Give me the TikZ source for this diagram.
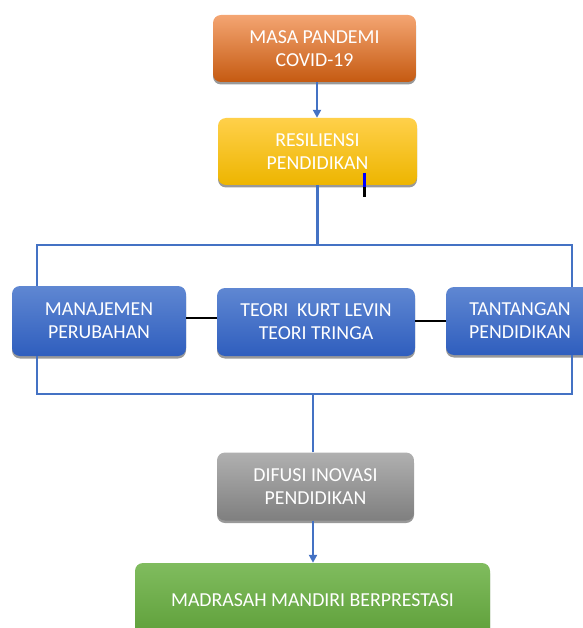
\documentclass[tikz,border=0pt]{standalone}
\usepackage{fontspec}
\setmainfont{Carlito}
\usetikzlibrary{positioning, arrows.meta, shadows}

\definecolor{linkblue}{HTML}{4472C4}
\definecolor{orangetop}{HTML}{F4A572}
\definecolor{orangebot}{HTML}{C55A11}
\definecolor{yellowtop}{HTML}{FFD04A}
\definecolor{yellowbot}{HTML}{EDB500}
\definecolor{bluetop}{HTML}{5F87D2}
\definecolor{bluebot}{HTML}{2F5EBE}
\definecolor{graytop}{HTML}{B0B0B0}
\definecolor{graybot}{HTML}{7F7F7F}
\definecolor{greentop}{HTML}{80BC5E}
\definecolor{greenbot}{HTML}{5E9F39}

\tikzset{
  box/.style={rounded corners=8pt, minimum width=199pt, minimum height=68pt,
    inner sep=0pt, align=center, text=white,
    font=\fontsize{19.8}{23}\selectfont,
    drop shadow={shadow xshift=0pt, shadow yshift=-2.5pt, fill=black, opacity=0.4}},
  orangebox/.style={box, top color=orangetop, bottom color=orangebot},
  yellowbox/.style={box, top color=yellowtop, bottom color=yellowbot},
  bluebox/.style={box, top color=bluetop, bottom color=bluebot},
  graybox/.style={box, top color=graytop, bottom color=graybot},
  greenbox/.style={box, top color=greentop, bottom color=greenbot},
  link/.style={draw=linkblue, line width=2.4pt},
  arrow/.style={link, -{Triangle[width=8pt,length=8pt]}},
  tie/.style={draw=black, line width=1.2pt}
}

\begin{document}
\begin{tikzpicture}[x=1pt, y=-1pt]
  \useasboundingbox (0,0) rectangle (582,628);

  % boxes
  \node[orangebox, minimum width=203pt, minimum height=67pt] (covid) at (314.5,48.5) {MASA PANDEMI\\COVID-19};
  \node[yellowbox, minimum height=67pt] (resil) at (317.5,151.5) {RESILIENSI\\PENDIDIKAN};
  \node[bluebox, minimum width=174pt, minimum height=70pt] (manaj) at (99,321) {MANAJEMEN\\PERUBAHAN};
  \node[bluebox, minimum width=198pt] (teori) at (316,322) {TEORI\ \ KURT LEVIN\\TEORI TRINGA};
  \node[bluebox, minimum width=148pt] (tantang) at (520,321) {TANTANGAN\\PENDIDIKAN};
  \node[graybox, minimum width=197pt] (difusi) at (315.5,486.5) {DIFUSI INOVASI\\PENDIDIKAN};
  \node[greenbox, minimum width=355pt, minimum height=74pt] (madrasah) at (312.5,600) {MADRASAH MANDIRI BERPRESTASI};

  % bracket corners
  \coordinate (tl) at (37,245);
  \coordinate (tr) at (572,245);
  \coordinate (bl) at (37,394);
  \coordinate (br) at (572,394);

  % connectors
  \draw[arrow] (covid.south -| 317,0) -- (resil.north -| 317,0);
  \draw[link] (resil.south) -- (resil.south |- tl);
  \draw[link] (tl |- manaj.north) -- (tl) -- (tr) -- (tr |- tantang.north);
  \draw[link] (bl |- manaj.south) -- (bl) -- (br) -- (br |- tantang.south);
  \draw[link] (difusi.north -| 313,0) -- (313,394);
  \draw[arrow] (difusi.south -| 313,0) -- (madrasah.north -| 313,0);
  \draw[tie] (manaj.east |- 0,318) -- (teori.west |- 0,318);
  \draw[tie] (teori.east |- 0,321) -- (tantang.west |- 0,321);

  % cursor mark
  \draw[blue, line width=3pt] (364,173) -- (364,187);
  \draw[black, line width=3pt] (364,187) -- (364,197);
\end{tikzpicture}
\end{document}
